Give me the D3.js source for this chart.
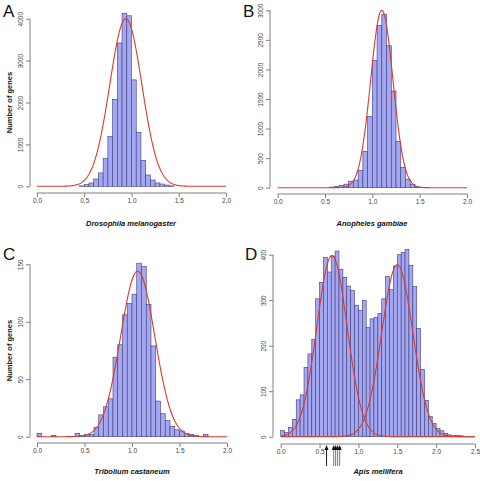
<!DOCTYPE html>
<html><head><meta charset="utf-8">
<script src="https://cdn.jsdelivr.net/npm/d3@7"></script>
<style>body{margin:0;background:#fff}svg{display:block}text{font-family:"Liberation Sans",Arial,sans-serif}</style>
</head><body>
<svg id="c" width="480" height="481"></svg>
<script>
// ---- data ----
const binWidth = 0.05;
const startA = 0.45;
const countsA = [10,40,80,175,320,670,1190,2075,3420,4130,4070,2540,1290,620,270,150,80,55,30,10];
const startB = 0.55;
const countsB = [10,20,40,60,110,130,290,615,1205,2150,2745,2930,2400,1635,785,345,145,55,15];
const startC = 0.0;
const countsC = [3,0,0,1,0,0,0,0,3,1,2,2,8,19,26,33,69,80,106,116,124,151,148,115,79,31,20,14,9,6,5,3,2,1,0,2];
const startD = 0.0;
const countsD = [14,9,20,38,81,92,152,182,214,303,339,394,362,397,408,368,350,331,321,289,278,299,240,259,262,271,303,352,323,375,400,405,412,376,330,238,148,80,44,29,18,13,7,4,2,3,2];
// fitted normal curves: [mean, sd, peak]
const fitA = [[0.94, 0.17, 4000]];
const fitB = [[1.10, 0.118, 3000]];
const fitC = [[1.06, 0.18, 144]];
const fitD = [[0.66, 0.195, 398], [1.50, 0.20, 378]];
const arrowsD = [0.59, 0.682, 0.707, 0.733, 0.759];
const xTicks2 = [0, 0.5, 1.0, 1.5, 2.0];
const xTicks25 = [0, 0.5, 1.0, 1.5, 2.0, 2.5];
const yTicksA = [0,1000,2000,3000,4000];
const yTicksB = [0,500,1000,1500,2000,2500,3000];
const yTicksC = [0,50,100,150];
const yTicksD = [0,100,200,300,400];
const labels = ["A","B","C","D"];
const species = ["Drosophila melanogaster","Anopheles gambiae","Tribolium castaneum","Apis mellifera"];
const yTitle = "Number of genes";

// ---- layout ----
const panels = [
 {lab:0, start:startA, counts:countsA, fit:fitA, xd:[0,2], xr:[37,226], yd:[0,4000], yr:[186.3,18.7], yTicks:yTicksA, xTicks:xTicks2,
  yAxisX:30, xAxisY:193, letter:[3,17], title:[131,226], ytitle:true},
 {lab:1, start:startB, counts:countsB, fit:fitB, xd:[0,2], xr:[277.7,467], yd:[0,3000], yr:[187.7,10.3], yTicks:yTicksB, xTicks:xTicks2,
  yAxisX:270, xAxisY:194, letter:[243,17], title:[372,226], ytitle:false},
 {lab:2, start:startC, counts:countsC, fit:fitC, xd:[0,2], xr:[37,227], yd:[0,150], yr:[436.7,264.3], yTicks:yTicksC, xTicks:xTicks2,
  yAxisX:30, xAxisY:443, letter:[3,260], title:[132,474], ytitle:true},
 {lab:3, start:startD, counts:countsD, fit:fitD, xd:[0,2.5], xr:[280.7,475], yd:[0,400], yr:[436.7,254.7], yTicks:yTicksD, xTicks:xTicks25,
  yAxisX:273, xAxisY:444, letter:[245,260], title:[378,474], ytitle:false, arrows:arrowsD}
];

const svg = d3.select("#c");
const axisCol = "#808080";
panels.forEach(p => {
  const g = svg.append("g");
  const x = d3.scaleLinear().domain(p.xd).range(p.xr);
  const y = d3.scaleLinear().domain(p.yd).range(p.yr);
  const bins = p.counts.map((c,i)=>({x0:p.start+i*binWidth, x1:p.start+(i+1)*binWidth, c}));
  g.selectAll("rect").data(bins.filter(b=>b.c>0)).join("rect")
    .attr("x", d=>x(d.x0)).attr("width", d=>x(d.x1)-x(d.x0))
    .attr("y", d=>y(d.c)).attr("height", d=>y(0)-y(d.c))
    .attr("fill","#a4a8f2").attr("stroke","#3d3d7a").attr("stroke-width",0.6);
  // curves
  const xs = d3.range(p.xd[0], p.xd[1]+0.0001, (p.xd[1]-p.xd[0])/400);
  p.fit.forEach(([m,s,h]) => {
    g.append("path").datum(xs)
      .attr("d", d3.line().x(v=>x(v)).y(v=>y(h*Math.exp(-(v-m)*(v-m)/(2*s*s)))))
      .attr("fill","none").attr("stroke","#dc3a2c").attr("stroke-width",1.1);
  });
  // x axis
  const xa = g.append("g").attr("transform",`translate(0,${p.xAxisY})`)
    .call(d3.axisBottom(x).tickValues(p.xTicks).tickSize(4).tickSizeOuter(0).tickFormat(d3.format(".1f")));
  xa.select(".domain").attr("stroke",axisCol).attr("d",`M${x(p.xTicks[0])},0H${x(p.xTicks[p.xTicks.length-1])}`);
  xa.selectAll(".tick line").attr("stroke",axisCol);
  xa.selectAll(".tick text").attr("font-size",6.5).attr("fill","#444").attr("dy","0.9em").attr("y",4);
  // y axis
  const ya = g.append("g").attr("transform",`translate(${p.yAxisX},0)`)
    .call(d3.axisLeft(y).tickValues(p.yTicks).tickSize(4).tickSizeOuter(0).tickFormat(d3.format("d")));
  ya.select(".domain").attr("stroke",axisCol).attr("d",`M0,${y(p.yTicks[0])}V${y(p.yTicks[p.yTicks.length-1])}`);
  ya.selectAll(".tick line").attr("stroke",axisCol);
  ya.selectAll(".tick text").attr("font-size",6.5).attr("fill","#444")
    .attr("x",null).attr("dy",null).attr("text-anchor","middle")
    .attr("transform","translate(-7,0) rotate(-90)");
  // letter
  g.append("text").attr("x",p.letter[0]).attr("y",p.letter[1]).attr("font-size",17).attr("fill","#111").text(labels[p.lab]);
  // species title
  g.append("text").attr("x",p.title[0]).attr("y",p.title[1]).attr("text-anchor","middle")
    .attr("font-size",7.5).attr("font-style","italic").attr("font-weight","bold").attr("fill","#111").text(species[p.lab]);
  if (p.ytitle) {
    const cy = (p.yr[0]+p.yr[1])/2;
    g.append("text").attr("transform",`translate(12,${cy}) rotate(-90)`).attr("text-anchor","middle")
      .attr("font-size",7.5).attr("font-weight","bold").attr("fill","#111").text(yTitle);
  }
  if (p.arrows) {
    p.arrows.forEach((a,i) => {
      const ax = x(a);
      g.append("line").attr("x1",ax).attr("x2",ax).attr("y1",449).attr("y2",466)
        .attr("stroke", i===0 ? "#222" : "#777").attr("stroke-width",1);
      g.append("path").attr("d",`M${ax},445L${ax-2},450L${ax+2},450Z`).attr("fill","#111");
    });
  }
});
</script>
</body></html>
